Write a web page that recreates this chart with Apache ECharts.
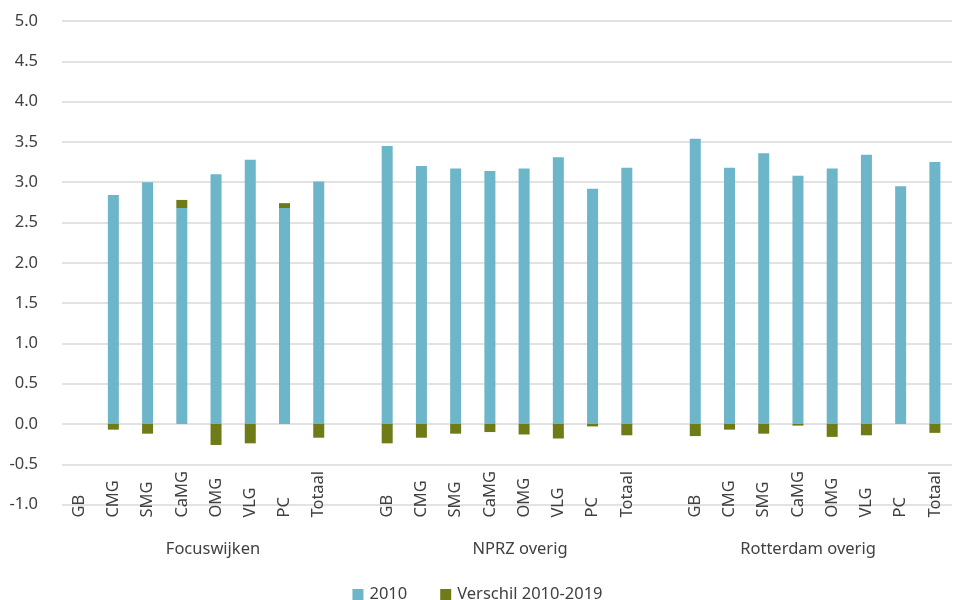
<!DOCTYPE html>
<html>
<head>
<meta charset="utf-8">
<script src="https://cdn.jsdelivr.net/npm/echarts@6/dist/echarts.min.js"></script>
<style>html,body{margin:0;padding:0;background:#fff}#c{width:955px;height:600px}</style>
</head>
<body>
<div id="c"></div>
<script>
var categories = ['GB','CMG','SMG','CaMG','OMG','VLG','PC','Totaal'];
var groups = ['Focuswijken','NPRZ overig','Rotterdam overig'];
var yTicks = [-1.0,-0.5,0.0,0.5,1.0,1.5,2.0,2.5,3.0,3.5,4.0,4.5,5.0];

var focus2010 = [null,2.84,3.00,2.68,3.10,3.28,2.68,3.01];
var focusDiff = [null,-0.07,-0.12,0.10,-0.26,-0.24,0.06,-0.17];
var nprz2010 = [3.45,3.20,3.17,3.14,3.17,3.31,2.92,3.18];
var nprzDiff = [-0.24,-0.17,-0.12,-0.10,-0.13,-0.18,-0.03,-0.14];
var rdam2010 = [3.54,3.18,3.36,3.08,3.17,3.34,2.95,3.25];
var rdamDiff = [-0.15,-0.07,-0.12,-0.02,-0.16,-0.14,0,-0.11];

var seriesNames = ['2010','Verschil 2010-2019'];

var xCats = [].concat(categories, [''], categories, [''], categories);
var s2010 = [].concat(focus2010, [null], nprz2010, [null], rdam2010);
var sDiff = [].concat(focusDiff, [null], nprzDiff, [null], rdamDiff);

var font = 'Noto Sans';
var fs = 16.5;
var txt = '#404040';
var chart = echarts.init(document.getElementById('c'));
chart.setOption({
  animation: false,
  grid: {left: 62, right: 3, top: 21, bottom: 95.4},
  legend: {
    top: 581, left: 'center', itemWidth: 11, itemHeight: 11, itemGap: 33, icon: 'rect',
    textStyle: {fontFamily: font, fontSize: fs, color: txt, padding: [0,0,0,1]},
    data: seriesNames
  },
  xAxis: {
    type: 'category', data: xCats, position: 'bottom',
    axisLine: {show: false}, axisTick: {show: false},
    axisLabel: {interval: 0, rotate: 90, align: 'left', verticalAlign: 'middle', margin: 13,
      fontFamily: font, fontSize: fs, color: txt}
  },
  yAxis: {
    type: 'value', min: -1, max: 5, interval: 0.5,
    axisLine: {show: false}, axisTick: {show: false},
    splitLine: {lineStyle: {color: '#d9d9d9', width: 1.5}},
    axisLabel: {margin: 24, fontFamily: font, fontSize: fs, color: txt,
      formatter: function(v){ return v.toFixed(1); }}
  },
  series: [
    {name: seriesNames[0], type: 'bar', stack: 'a', barWidth: 11, data: s2010,
      itemStyle: {color: '#6db5c8'}},
    {name: seriesNames[1], type: 'bar', stack: 'a', barWidth: 11, data: sDiff,
      itemStyle: {color: '#6e7b17'}}
  ],
  graphic: [
    {type: 'text', x: 213, y: 549, style: {text: groups[0], fontFamily: font, fontSize: fs, fill: txt, align: 'center', verticalAlign: 'middle'}},
    {type: 'text', x: 520, y: 549, style: {text: groups[1], fontFamily: font, fontSize: fs, fill: txt, align: 'center', verticalAlign: 'middle'}},
    {type: 'text', x: 808, y: 549, style: {text: groups[2], fontFamily: font, fontSize: fs, fill: txt, align: 'center', verticalAlign: 'middle'}}
  ]
});
</script>
</body>
</html>
